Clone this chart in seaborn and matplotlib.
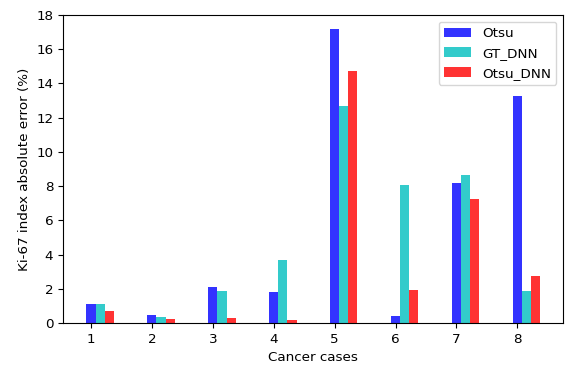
import numpy as np
import pandas as pd
import matplotlib
matplotlib.use("Agg")
import matplotlib.pyplot as plt
import seaborn as sns

cases = ["1", "2", "3", "4", "5", "6", "7", "8"]
otsu = [1.1, 0.45, 2.1, 1.8, 17.2, 0.4, 8.2, 13.25]
gt_dnn = [1.1, 0.35, 1.85, 3.7, 12.7, 8.05, 8.65, 1.85]
otsu_dnn = [0.7, 0.25, 0.3, 0.15, 14.75, 1.95, 7.25, 2.75]
methods = ["Otsu", "GT_DNN", "Otsu_DNN"]
colors = ["blue", "c", "red"]

df = pd.DataFrame({
    "case": cases * 3,
    "err": otsu + gt_dnn + otsu_dnn,
    "method": [m for m in methods for _ in cases],
})

plt.rcParams["font.family"] = ["DejaVu Sans"]
plt.rcParams["font.size"] = 9.7

fig = plt.figure(figsize=(5.66, 3.67), dpi=100)
ax = fig.add_axes([63 / 566, 44 / 367, 500 / 566, 308 / 367])

w = 0.45
sns.barplot(data=df, x="case", y="err", hue="method", hue_order=methods,
            palette=colors, width=w, saturation=1, alpha=0.8, ax=ax,
            errorbar=None)

off = w / 3
ax.set_xticks(np.arange(len(cases)) - off)
ax.set_xticklabels(cases)
ax.set_xlim(-off - 0.46, len(cases) - 1 - off + 0.75)
ax.set_ylim(0, 18)
ax.set_yticks(np.arange(0, 19, 2))
ax.set_xlabel("Cancer cases")
ax.set_ylabel("Ki-67 index absolute error (%)")
leg = ax.legend(loc="upper right", title=None)

fig.savefig("out.png", dpi=100)
